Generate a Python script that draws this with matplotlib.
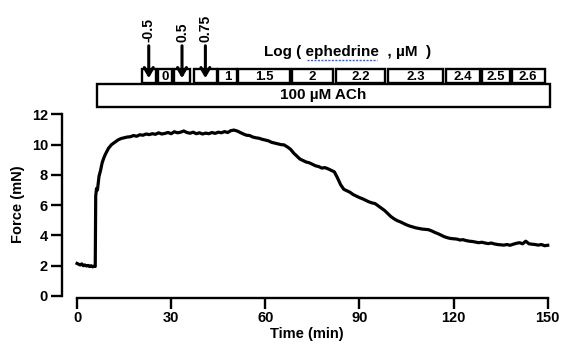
import matplotlib
matplotlib.use("Agg")
import matplotlib.pyplot as plt
from matplotlib.patches import Rectangle
from matplotlib.transforms import blended_transform_factory

plt.rcParams['font.family'] = ['Liberation Sans', 'DejaVu Sans']
plt.rcParams['font.weight'] = 'bold'

# force trace
time_min = [0, 0.5, 1, 1.5, 2, 2.5, 3, 3.5, 4, 4.5, 5, 5.5, 5.8, 5.95, 6.2, 6.5, 7, 7.5, 8, 8.5, 9, 9.5,
            10, 11, 12, 13, 14, 15, 16, 17, 18, 19, 20, 21, 22, 23, 24, 25, 26, 27, 28, 29,
            30, 31, 32, 33, 34, 35, 36, 37, 38, 39, 40, 41, 42, 43, 44, 45, 46, 47, 48, 49,
            50, 51, 52, 53, 54, 55, 56, 57, 58, 59, 60, 61, 62, 63, 64, 65, 66, 67, 68, 69,
            70, 71, 72, 73, 74, 75, 76, 77, 78, 79, 80, 81, 82, 83, 84, 85, 86, 87, 88, 89,
            90, 91, 92, 93, 94, 95, 96, 97, 98, 99, 100, 101, 102, 103, 104, 105, 106, 107, 108, 109,
            110, 111, 112, 113, 114, 115, 116, 117, 118, 119, 120, 121, 122, 123, 124, 125, 126, 127, 128, 129,
            130, 131, 132, 133, 134, 135, 136, 137, 138, 139, 140, 141, 142, 143, 144, 145, 146, 147, 148, 149, 150]
force_mN = [2.15, 2.1, 2.05, 2.12, 2.0, 2.05, 1.98, 2.02, 1.95, 2.0, 1.93, 1.97, 1.95, 6.6, 7.1, 7.0, 7.9, 8.3, 8.8, 9.1, 9.35, 9.55,
            9.75, 10.0, 10.15, 10.3, 10.4, 10.45, 10.5, 10.52, 10.6, 10.55, 10.65, 10.62, 10.7, 10.66, 10.72, 10.68, 10.78, 10.7, 10.74, 10.8,
            10.72, 10.85, 10.78, 10.82, 10.9, 10.8, 10.75, 10.82, 10.72, 10.78, 10.7, 10.76, 10.72, 10.8, 10.74, 10.82, 10.78, 10.86, 10.8, 10.92,
            10.96, 10.9, 10.8, 10.7, 10.62, 10.6, 10.5, 10.45, 10.42, 10.35, 10.3, 10.25, 10.15, 10.1, 10.05, 10.0, 9.98, 9.85, 9.7, 9.45,
            9.25, 9.05, 8.95, 8.85, 8.8, 8.7, 8.6, 8.55, 8.45, 8.48, 8.4, 8.3, 8.2, 7.8, 7.35, 7.05, 6.95, 6.85, 6.7, 6.6,
            6.5, 6.42, 6.32, 6.22, 6.15, 6.1, 5.95, 5.8, 5.65, 5.45, 5.25, 5.1, 4.98, 4.9, 4.8, 4.7, 4.62, 4.56, 4.5, 4.46,
            4.42, 4.4, 4.38, 4.3, 4.2, 4.12, 4.02, 3.92, 3.85, 3.8, 3.78, 3.76, 3.7, 3.72, 3.66, 3.62, 3.6, 3.56, 3.52, 3.55,
            3.5, 3.46, 3.5, 3.44, 3.4, 3.38, 3.36, 3.4, 3.35, 3.42, 3.48, 3.52, 3.45, 3.62, 3.45, 3.42, 3.4, 3.36, 3.4, 3.32, 3.35]

# ephedrine dosing periods (min)
dose_labels = ['-0.5', '0', '0.5', '0.75', '1', '1.5', '2', '2.2', '2.3', '2.4', '2.5', '2.6']
dose_start = [20.6, 25.8, 30.9, 37.3, 44.9, 51.3, 68.5, 82.5, 99.0, 117.5, 129.0, 138.5]
dose_end = [25.1, 30.2, 36.0, 44.5, 50.9, 67.8, 81.5, 98.1, 116.6, 128.3, 137.9, 149.0]
arrow_doses = ['-0.5', '0.5', '0.75']
ach_start, ach_end = 6.4, 150.6

fig = plt.figure(figsize=(5.65, 3.51), dpi=100)
ax = fig.add_axes([0.1097, 0.1524, 0.8653, 0.5305])

ax.plot(time_min, force_mN, color='black', lw=2.3, solid_joinstyle='round')

ax.set_xlim(-4.8, 151)
ax.set_ylim(-0.1, 12.2)
ax.spines['top'].set_visible(False)
ax.spines['right'].set_visible(False)
ax.spines['left'].set_position(('data', -4.8))
ax.spines['left'].set_bounds(0, 12)
ax.spines['bottom'].set_bounds(0, 150)
for s in ['left', 'bottom']:
    ax.spines[s].set_linewidth(1.7)
ax.set_xticks([0, 30, 60, 90, 120, 150])
ax.set_yticks([0, 2, 4, 6, 8, 10, 12])
ax.tick_params(width=1.7, length=8, labelsize=10.5, pad=2)
for lab in ax.get_xticklabels() + ax.get_yticklabels():
    lab.set_fontweight('bold')
ax.set_xlabel('Time (min)', fontsize=10.5, fontweight='bold', labelpad=1)
ax.set_ylabel('Force (mN)', fontsize=10.5, fontweight='bold', labelpad=5)

# boxes above the plot: x in data, y in figure
tr = blended_transform_factory(ax.transData, fig.transFigure)

def fy(px):
    return 1 - px / 351.0

ax.add_patch(Rectangle((ach_start, fy(107)), ach_end - ach_start, fy(84) - fy(107), transform=tr,
                       fill=False, lw=1.7, ec='black', clip_on=False))
ax.text((ach_start + ach_end) / 2, fy(95.5), '100 µM ACh', transform=tr, ha='center', va='center',
        fontsize=11, fontweight='bold')

for lab, x0, x1 in zip(dose_labels, dose_start, dose_end):
    ax.add_patch(Rectangle((x0, fy(83)), x1 - x0, fy(69) - fy(83), transform=tr,
                           fill=False, lw=1.7, ec='black', clip_on=False))
    xc = (x0 + x1) / 2
    if lab in arrow_doses:
        ax.annotate('', xy=(xc, fy(81)), xytext=(xc, fy(43)), xycoords=tr, textcoords=tr,
                    arrowprops=dict(arrowstyle='->,head_length=0.55,head_width=0.32', lw=2.2, color='black'))
        ax.text(xc, fy(42), lab, transform=tr, rotation=90, ha='center', va='bottom',
                fontsize=10, fontweight='bold')
    else:
        ax.text(xc, fy(76.5), lab, transform=tr, ha='center', va='center', fontsize=9.5, fontweight='bold')

fig.text(348 / 565, fy(52), 'Log ( ephedrine  , µM  )', ha='center', va='center', fontsize=11, fontweight='bold')
# spell-check underline under "ephedrine"
fig.add_artist(plt.Line2D([307 / 565, 377 / 565], [fy(60), fy(60)], color='#3a5fd0', lw=1, ls=(0, (1.5, 1))))

fig.savefig('out.png', dpi=100)
